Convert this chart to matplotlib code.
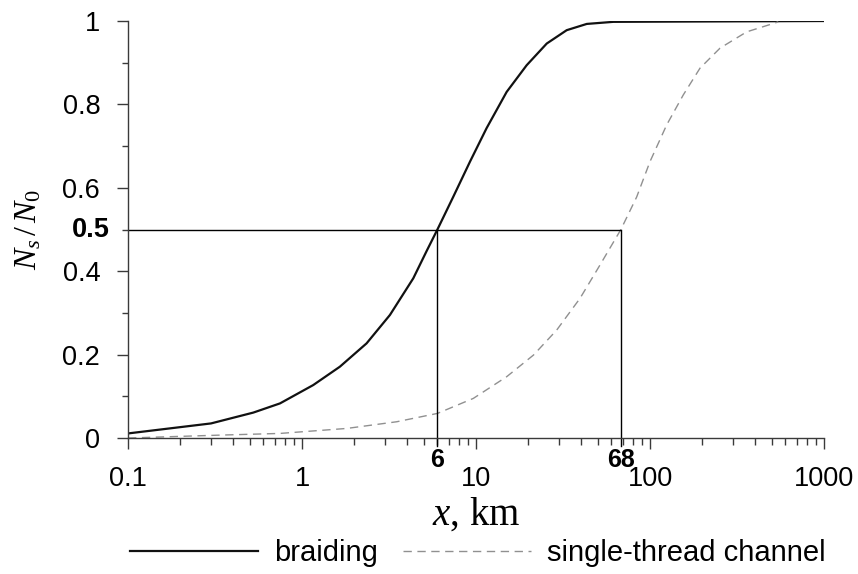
import matplotlib
matplotlib.use("Agg")
import matplotlib.pyplot as plt
from matplotlib.ticker import FixedLocator, NullFormatter, LogLocator
from matplotlib.lines import Line2D

plt.rcParams["font.family"] = ["Liberation Sans", "DejaVu Sans"]
plt.rcParams["mathtext.fontset"] = "custom"
plt.rcParams["mathtext.it"] = "Liberation Serif:italic"
plt.rcParams["mathtext.rm"] = "Liberation Serif"

# ---- values ----
braid_x = [0.1, 0.3, 0.525, 0.747, 1.16, 1.65, 2.35, 3.2, 4.36, 5.21, 6.0,
           7.41, 9.24, 11.5, 15.0, 19.55, 25.5, 33.2, 43.3, 61.5, 1000]
braid_y = [0.011, 0.035, 0.061, 0.083, 0.127, 0.171, 0.227, 0.295, 0.383,
           0.449, 0.5, 0.579, 0.663, 0.743, 0.830, 0.894, 0.946, 0.978,
           0.993, 0.998, 1.0]

single_x = [0.1, 0.34, 0.747, 1.81, 3.5, 6.0, 9.65, 15.0, 21.4, 29.1, 39.6,
            51.6, 68, 83.8, 100, 124.7, 155.4, 193.8, 252.6, 359.4, 511, 546]
single_y = [0.0, 0.007, 0.011, 0.023, 0.039, 0.059, 0.095, 0.147, 0.199,
            0.259, 0.335, 0.415, 0.5, 0.578, 0.663, 0.751, 0.823, 0.887,
            0.935, 0.974, 0.994, 0.998]

half_level = 0.5
half_x = [6, 68]
half_labels = ["6", "68"]

xticks = [0.1, 1, 10, 100, 1000]
xtick_labels = ["0.1", "1", "10", "100", "1000"]
yticks = [0, 0.2, 0.4, 0.6, 0.8, 1.0]
ytick_labels = ["0", "0.2", "0.4", "0.6", "0.8", "1"]

fig = plt.figure(figsize=(8.58, 5.74), dpi=100)
ax = fig.add_axes([0.1492, 0.2369, 0.8112, 0.7265])

ax.plot(braid_x, braid_y, color="#111111", lw=1.6, label="braiding")
ax.plot(single_x, single_y, color="#909090", lw=1.0, dashes=(6, 4),
        label="single-thread channel")

# 50 % guide lines
ax.hlines(half_level, xticks[0], half_x[-1], color="black", lw=1.0)
for xv, lab in zip(half_x, half_labels):
    ax.axvline(xv, ymin=-0.018, ymax=half_level, color="black", lw=1.0,
               clip_on=False)
    ax.annotate(lab, (xv, 0), xytext=(0, -16), textcoords="offset points",
                ha="center", va="center", fontsize=18, fontweight="bold")
ax.annotate("0.5", (xticks[0], half_level), xytext=(-13, 0),
            textcoords="offset points", ha="right", va="center",
            fontsize=19.5, fontweight="bold")

ax.set_xscale("log")
ax.set_xlim(xticks[0], xticks[-1])
ax.set_ylim(0, 1)
ax.xaxis.set_major_locator(FixedLocator(xticks))
ax.set_xticklabels(xtick_labels)
ax.xaxis.set_minor_locator(LogLocator(base=10, subs=range(2, 10)))
ax.xaxis.set_minor_formatter(NullFormatter())
ax.yaxis.set_major_locator(FixedLocator(yticks))
ax.set_yticklabels(ytick_labels)
ax.yaxis.set_minor_locator(FixedLocator([0.1, 0.3, 0.5, 0.7, 0.9]))

for side in ["top", "right"]:
    ax.spines[side].set_visible(False)
for side in ["left", "bottom"]:
    ax.spines[side].set_color("#3a3a3a")
    ax.spines[side].set_linewidth(1.0)

ax.tick_params(axis="both", which="major", direction="out", length=8,
               width=1.0, color="#3a3a3a", labelsize=19.5, pad=12)
ax.tick_params(axis="x", which="minor", direction="out", length=5,
               width=1.0, color="#3a3a3a")
ax.tick_params(axis="y", which="minor", direction="out", length=4,
               width=1.0, color="#3a3a3a")

ax.set_xlabel(r"$x$, km", fontfamily="Liberation Serif", fontsize=28)
ax.xaxis.set_label_coords(0.5, -0.14)
ax.xaxis.label.set_va("top")
ax.set_ylabel(r"$N_s\,/\,N_\mathit{0}$", fontsize=23)
ax.yaxis.set_label_coords(-0.122, 0.5)

handles = [Line2D([], [], color="#111111", lw=1.6),
           Line2D([], [], color="#909090", lw=1.0, dashes=(6, 4))]
fig.legend(handles, ["braiding", "single-thread channel"], loc="center",
           bbox_to_anchor=(0.557, 0.037), ncol=2, frameon=False,
           fontsize=21, handlelength=4.4, handletextpad=0.55,
           columnspacing=0.85)

fig.savefig("out.png", dpi=100)
